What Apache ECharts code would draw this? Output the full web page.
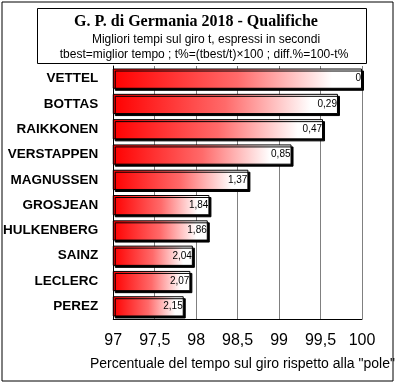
<!DOCTYPE html>
<html>
<head>
<meta charset="utf-8">
<script src="https://cdn.jsdelivr.net/npm/echarts@6/dist/echarts.min.js"></script>
<style>
html,body{margin:0;padding:0;background:#fff;}
#c{width:395px;height:383px;}
</style>
</head>
<body>
<div id="c"></div>
<script>
var titleText = 'G. P. di Germania 2018 - Qualifiche';
var subLine1 = 'Migliori tempi sul giro t, espressi in secondi';
var subLine2 = 'tbest=miglior tempo ; t%=(tbest/t)×100 ; diff.%=100-t%';
var axisTitle = 'Percentuale del tempo sul giro rispetto alla "pole"';
var drivers = ['VETTEL','BOTTAS','RAIKKONEN','VERSTAPPEN','MAGNUSSEN','GROSJEAN','HULKENBERG','SAINZ','LECLERC','PEREZ'];
var tPercent = [100, 99.71, 99.53, 99.15, 98.63, 98.16, 98.14, 97.96, 97.93, 97.85];
var diffPercent = ['0','0,29','0,47','0,85','1,37','1,84','1,86','2,04','2,07','2,15'];
var xMin = 97, xMax = 100, xStep = 0.5;

var chart = echarts.init(document.getElementById('c'), null, {renderer:'canvas'});
var grad = new echarts.graphic.LinearGradient(0,0,1,0,[
  {offset:0,color:'#ff0000'},
  {offset:0.5,color:'#ff6a6a'},
  {offset:0.88,color:'#ffffff'},
  {offset:1,color:'#ffffff'}
]);
chart.setOption({
  animation:false,
  backgroundColor:'#ffffff',
  grid:{left:112,right:33,top:66,bottom:64,containLabel:false},
  xAxis:{
    type:'value',min:xMin,max:xMax,interval:xStep,
    axisLine:{show:true,lineStyle:{color:'#000',width:1}},
    axisTick:{show:false},
    splitLine:{show:true,lineStyle:{color:'#808080',width:1}},
    axisLabel:{color:'#000',fontFamily:'Liberation Sans',fontSize:16,margin:14,
      formatter:function(v){return String(v).replace('.',',');}}
  },
  yAxis:{
    type:'category',data:drivers,inverse:true,
    axisLine:{show:true,lineStyle:{color:'#000',width:1}},
    axisTick:{show:false},
    splitLine:{show:false},
    axisLabel:{color:'#000',fontFamily:'Liberation Sans',fontWeight:'bold',fontSize:13.5,margin:15}
  },
  series:[{
    type:'bar',
    data:tPercent,
    barCategoryGap:'20%',
    itemStyle:{color:grad,borderColor:'#000',borderWidth:1,
      shadowColor:'#000',shadowOffsetX:2,shadowOffsetY:2,shadowBlur:0},
    label:{show:true,position:'insideRight',distance:1,color:'#000',
      fontFamily:'Liberation Sans',fontSize:10,
      formatter:function(p){return diffPercent[p.dataIndex];}}
  }],
  graphic:[
    {type:'rect',shape:{x:2,y:2,width:391,height:379},style:{fill:'none',stroke:'#000',lineWidth:1},z:100,silent:true},
    {type:'rect',shape:{x:37.5,y:8.5,width:329,height:55},style:{fill:'#fff',stroke:'#000',lineWidth:1},z:50},
    {type:'text',x:196,y:22,style:{text:titleText,font:'bold 16px "Liberation Serif"',fill:'#000',align:'center',verticalAlign:'middle'},z:51},
    {type:'text',x:206,y:40,style:{text:subLine1,font:'12px "Liberation Sans"',fill:'#000',align:'center',verticalAlign:'middle'},z:51},
    {type:'text',x:204,y:55,style:{text:subLine2,font:'12px "Liberation Sans"',fill:'#000',align:'center',verticalAlign:'middle'},z:51},
    {type:'text',x:90,y:364,style:{text:axisTitle,font:'14px "Liberation Sans"',fill:'#000',align:'left',verticalAlign:'middle'},z:51}
  ]
});
</script>
</body>
</html>
